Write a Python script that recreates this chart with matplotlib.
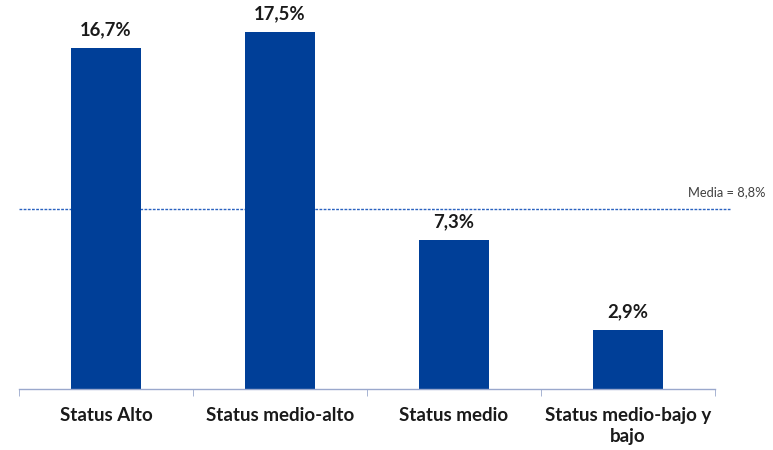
import matplotlib
matplotlib.use("Agg")
import matplotlib.pyplot as plt
import numpy as np

# data
categories = ["Status Alto", "Status medio-alto", "Status medio", "Status medio-bajo y\nbajo"]
values = [16.7, 17.5, 7.3, 2.9]
value_labels = ["16,7%", "17,5%", "7,3%", "2,9%"]
media = 8.8
media_label = "Media = 8,8%"

plt.rcParams["font.family"] = ["Lato", "DejaVu Sans"]

bar_color = "#003f98"
axis_color = "#9aa8cc"

fig = plt.figure(figsize=(7.73, 4.5), dpi=100)
ax = fig.add_axes([19 / 773, 61 / 450, 696 / 773, 388 / 450])

x = np.arange(len(categories))
ax.bar(x, values, width=0.40, color=bar_color, zorder=2)

for xi, v, lab in zip(x, values, value_labels):
    ax.annotate(lab, (xi, v), xytext=(0, 7), textcoords="offset points",
                ha="center", va="bottom", fontsize=13.3, fontweight="bold", color="#1a1a1a")

# mean line, runs a bit past the axis end
ax.axhline(media, xmin=0, xmax=1.021, color="#2a62c0", linestyle=(0, (2, 1)),
           linewidth=1.0, clip_on=False, zorder=1)
ax.text(3.57, media + 0.55, media_label, ha="center", va="bottom",
        fontsize=9.3, color="#404040")

ax.set_xlim(-0.5, len(categories) - 0.5)
ax.set_ylim(0, 19)

for s in ["top", "right", "left"]:
    ax.spines[s].set_visible(False)
ax.spines["bottom"].set_color(axis_color)
ax.spines["bottom"].set_linewidth(1.0)

ax.set_yticks([])
ax.set_xticks(x)
ax.set_xticklabels(categories, fontsize=13.5, fontweight="bold", color="#1a1a1a",
                   linespacing=1.3)
ax.tick_params(axis="x", which="major", length=0, pad=13)
ax.set_xticks(np.arange(len(categories) + 1) - 0.5, minor=True)
ax.tick_params(axis="x", which="minor", length=5, color=axis_color, direction="out")

fig.savefig("out.png", dpi=100)
